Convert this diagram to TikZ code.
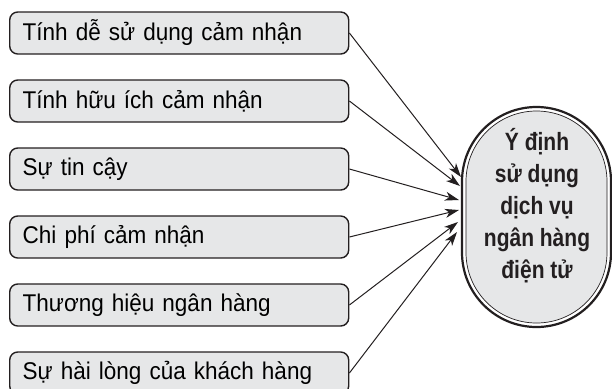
\documentclass[tikz,border=0pt]{standalone}
\usepackage{fontspec}
\setmainfont{Liberation Sans}
\newfontfamily\condfont[FakeStretch=0.93]{Liberation Sans}
\newfontfamily\condbold[FakeStretch=0.84]{Liberation Sans Bold}
\usetikzlibrary{arrows.meta}
\definecolor{boxfill}{HTML}{E6E7E8}
\definecolor{ink}{HTML}{231F20}
\tikzset{
  factor/.style={draw=ink, line width=1.4bp, fill=boxfill, rounded corners=8bp,
    minimum width=339bp, minimum height=42bp, text width=313bp, inner xsep=13bp,
    align=left, font=\condfont\fontsize{24.2bp}{28bp}\selectfont, anchor=west},
  goalouter/.style={draw=ink, line width=2.2bp, fill=white, rounded corners=74.5bp,
    minimum width=149bp, minimum height=220bp, inner sep=0pt},
  goalinner/.style={draw=ink, line width=0.7bp, fill=boxfill, rounded corners=70.5bp,
    minimum width=141bp, minimum height=212bp, inner sep=0pt},
  goallabel/.style={align=center, inner sep=0pt, text=ink,
    font=\condbold\fontsize{25bp}{32bp}\selectfont},
  link/.style={draw=ink, line width=1bp, -{Stealth[length=14bp, width=9bp, inset=4bp]}}
}
\begin{document}
\begin{tikzpicture}[x=1bp,y=-1bp]
\clip (0,0) rectangle (612,388);
\node[factor] (f1) at (9,33) {Tính dễ sử dụng cảm nhận};
\node[factor] (f2) at (9,101) {Tính hữu ích cảm nhận};
\node[factor] (f3) at (9,169) {Sự tin cậy};
\node[factor] (f4) at (9,237) {Chi phí cảm nhận};
\node[factor] (f5) at (9,305) {Thương hiệu ngân hàng};
\node[factor] (f6) at (9,373) {Sự hài lòng của khách hàng};
\node[goalouter] (goal) at (536.5,217) {};
\node[goalinner] (goalin) at (goal.center) {};
\node[goallabel] (goaltext) at (537,206) {Ý định\\sử dụng\\dịch vụ\\ngân hàng\\điện tử};
\coordinate (t1) at (461,177);
\coordinate (t2) at (460,186);
\coordinate (t3) at (459,200);
\coordinate (t4) at (459,210);
\coordinate (t5) at (458,222);
\coordinate (t6) at (457,232);
\draw[link] (f1.east) -- (t1);
\draw[link] (f2.east) -- (t2);
\draw[link] (f3.east) -- (t3);
\draw[link] (f4.east) -- (t4);
\draw[link] (f5.east) -- (t5);
\draw[link] (f6.east) -- (t6);
\end{tikzpicture}
\end{document}
